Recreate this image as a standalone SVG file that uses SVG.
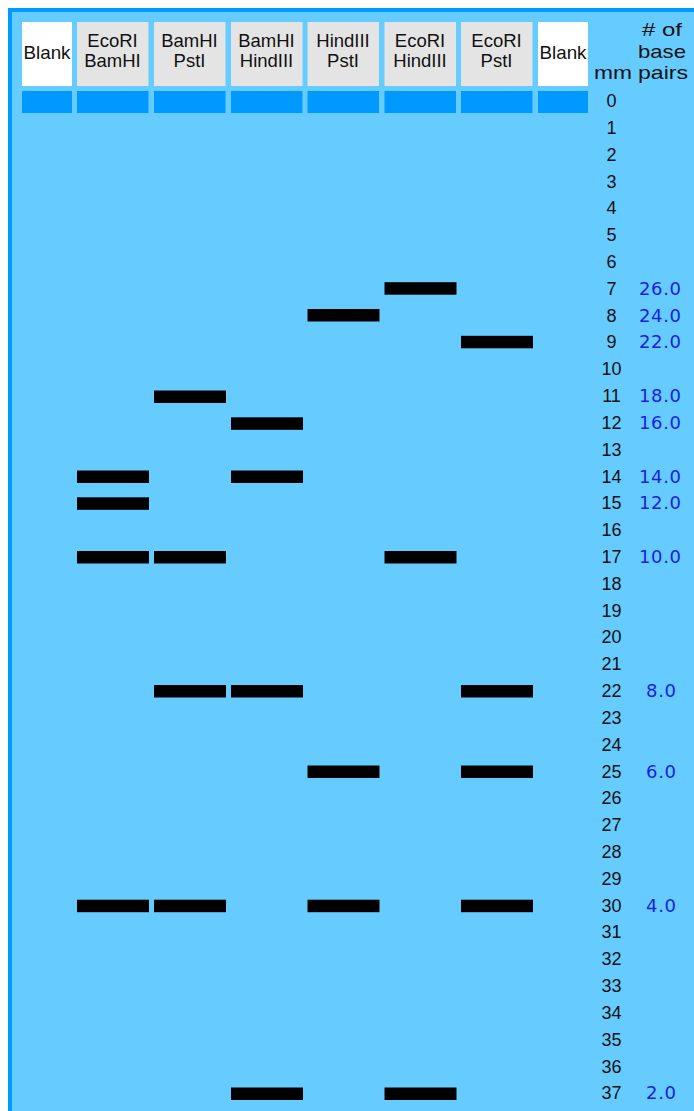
<svg xmlns="http://www.w3.org/2000/svg" width="694" height="1111" viewBox="0 0 694 1111">
<style>
.hd{font-family:"Liberation Sans",Arial,sans-serif;font-size:18.5px;fill:#111;text-anchor:middle}
.mm{font-family:"Liberation Sans",Arial,sans-serif;font-size:18px;fill:#111;text-anchor:middle}
.bp{font-family:"DejaVu Sans",Verdana,sans-serif;font-size:18px;fill:#1a22dd;text-anchor:middle}
.cell{fill:#e4e4e4}
.blank{fill:#ffffff}
.well{fill:#0099ff}
.band{fill:#000000}
</style>
<rect x="8" y="8" width="700" height="1120" fill="#0099ff"/>
<rect x="12" y="12" width="700" height="1120" fill="#66ccff"/>
<g id="lane-blank1">
<rect class="blank" x="22" y="22" width="50" height="64"/>
<text class="hd" x="47" y="59" textLength="47" lengthAdjust="spacingAndGlyphs">Blank</text>
<rect class="well" x="22" y="91" width="50" height="22"/>
</g>
<g id="lane-ecori-bamhi">
<rect class="cell" x="77" y="22" width="71.5" height="64"/>
<text class="hd" x="112.5" y="47">EcoRI</text>
<text class="hd" x="112.5" y="67">BamHI</text>
<rect class="well" x="77" y="91" width="71.5" height="22"/>
</g>
<g id="lane-bamhi-pstl">
<rect class="cell" x="154" y="22" width="71.5" height="64"/>
<text class="hd" x="189.5" y="47">BamHI</text>
<text class="hd" x="189.5" y="67">PstI</text>
<rect class="well" x="154" y="91" width="71.5" height="22"/>
</g>
<g id="lane-bamhi-hindiii">
<rect class="cell" x="231" y="22" width="71.5" height="64"/>
<text class="hd" x="266.5" y="47">BamHI</text>
<text class="hd" x="266.5" y="67">HindIII</text>
<rect class="well" x="231" y="91" width="71.5" height="22"/>
</g>
<g id="lane-hindiii-pstl">
<rect class="cell" x="307.5" y="22" width="71.5" height="64"/>
<text class="hd" x="343" y="47">HindIII</text>
<text class="hd" x="343" y="67">PstI</text>
<rect class="well" x="307.5" y="91" width="71.5" height="22"/>
</g>
<g id="lane-ecori-hindiii">
<rect class="cell" x="384.5" y="22" width="71.5" height="64"/>
<text class="hd" x="420" y="47">EcoRI</text>
<text class="hd" x="420" y="67">HindIII</text>
<rect class="well" x="384.5" y="91" width="71.5" height="22"/>
</g>
<g id="lane-ecori-pstl">
<rect class="cell" x="461" y="22" width="71.5" height="64"/>
<text class="hd" x="496.5" y="47">EcoRI</text>
<text class="hd" x="496.5" y="67">PstI</text>
<rect class="well" x="461" y="91" width="71.5" height="22"/>
</g>
<g id="lane-blank2">
<rect class="blank" x="538" y="22" width="50" height="64"/>
<text class="hd" x="563" y="59" textLength="47" lengthAdjust="spacingAndGlyphs">Blank</text>
<rect class="well" x="538" y="91" width="50" height="22"/>
</g>
<g id="column-headers">
<text class="hd" x="662" y="36" textLength="40" lengthAdjust="spacingAndGlyphs"># of</text>
<text class="hd" x="662" y="58" textLength="48" lengthAdjust="spacingAndGlyphs">base</text>
<text class="hd" x="613" y="79" textLength="38" lengthAdjust="spacingAndGlyphs">mm</text>
<text class="hd" x="663" y="79" textLength="50" lengthAdjust="spacingAndGlyphs">pairs</text>
</g>
<g id="bands">
<rect class="band" x="77" y="470.5" width="72" height="12.5"/>
<rect class="band" x="77" y="497.3" width="72" height="12.5"/>
<rect class="band" x="77" y="551" width="72" height="12.5"/>
<rect class="band" x="77" y="899.7" width="72" height="12.5"/>
<rect class="band" x="154" y="390.5" width="72" height="12.5"/>
<rect class="band" x="154" y="551" width="72" height="12.5"/>
<rect class="band" x="154" y="685" width="72" height="12.5"/>
<rect class="band" x="154" y="899.7" width="72" height="12.5"/>
<rect class="band" x="231" y="417.3" width="72" height="12.5"/>
<rect class="band" x="231" y="470.5" width="72" height="12.5"/>
<rect class="band" x="231" y="685" width="72" height="12.5"/>
<rect class="band" x="231" y="1087.5" width="72" height="12.5"/>
<rect class="band" x="307.5" y="309" width="72" height="12.5"/>
<rect class="band" x="307.5" y="765.5" width="72" height="12.5"/>
<rect class="band" x="307.5" y="899.7" width="72" height="12.5"/>
<rect class="band" x="384.5" y="282.2" width="72" height="12.5"/>
<rect class="band" x="384.5" y="551" width="72" height="12.5"/>
<rect class="band" x="384.5" y="1087.5" width="72" height="12.5"/>
<rect class="band" x="461" y="335.8" width="72" height="12.5"/>
<rect class="band" x="461" y="685" width="72" height="12.5"/>
<rect class="band" x="461" y="765.5" width="72" height="12.5"/>
<rect class="band" x="461" y="899.7" width="72" height="12.5"/>
</g>
<g id="mm-scale">
<text class="mm" x="611.5" y="107">0</text>
<text class="mm" x="611.5" y="133.8">1</text>
<text class="mm" x="611.5" y="160.6">2</text>
<text class="mm" x="611.5" y="187.5">3</text>
<text class="mm" x="611.5" y="214.3">4</text>
<text class="mm" x="611.5" y="241.1">5</text>
<text class="mm" x="611.5" y="267.9">6</text>
<text class="mm" x="611.5" y="294.7">7</text>
<text class="mm" x="611.5" y="321.6">8</text>
<text class="mm" x="611.5" y="348.4">9</text>
<text class="mm" x="611.5" y="375.2">10</text>
<text class="mm" x="611.5" y="402">11</text>
<text class="mm" x="611.5" y="428.8">12</text>
<text class="mm" x="611.5" y="455.7">13</text>
<text class="mm" x="611.5" y="482.5">14</text>
<text class="mm" x="611.5" y="509.3">15</text>
<text class="mm" x="611.5" y="536.1">16</text>
<text class="mm" x="611.5" y="562.9">17</text>
<text class="mm" x="611.5" y="589.8">18</text>
<text class="mm" x="611.5" y="616.6">19</text>
<text class="mm" x="611.5" y="643.4">20</text>
<text class="mm" x="611.5" y="670.2">21</text>
<text class="mm" x="611.5" y="697">22</text>
<text class="mm" x="611.5" y="723.9">23</text>
<text class="mm" x="611.5" y="750.7">24</text>
<text class="mm" x="611.5" y="777.5">25</text>
<text class="mm" x="611.5" y="804.3">26</text>
<text class="mm" x="611.5" y="831.1">27</text>
<text class="mm" x="611.5" y="858">28</text>
<text class="mm" x="611.5" y="884.8">29</text>
<text class="mm" x="611.5" y="911.6">30</text>
<text class="mm" x="611.5" y="938.4">31</text>
<text class="mm" x="611.5" y="965.2">32</text>
<text class="mm" x="611.5" y="992.1">33</text>
<text class="mm" x="611.5" y="1018.9">34</text>
<text class="mm" x="611.5" y="1045.7">35</text>
<text class="mm" x="611.5" y="1072.5">36</text>
<text class="mm" x="611.5" y="1099.3">37</text>
</g>
<g id="bp-scale">
<text class="bp" x="660" y="294.7" textLength="42" lengthAdjust="spacing">26.0</text>
<text class="bp" x="660" y="321.6" textLength="42" lengthAdjust="spacing">24.0</text>
<text class="bp" x="660" y="348.4" textLength="42" lengthAdjust="spacing">22.0</text>
<text class="bp" x="660" y="402" textLength="42" lengthAdjust="spacing">18.0</text>
<text class="bp" x="660" y="428.8" textLength="42" lengthAdjust="spacing">16.0</text>
<text class="bp" x="660" y="482.5" textLength="42" lengthAdjust="spacing">14.0</text>
<text class="bp" x="660" y="509.3" textLength="42" lengthAdjust="spacing">12.0</text>
<text class="bp" x="660" y="562.9" textLength="42" lengthAdjust="spacing">10.0</text>
<text class="bp" x="661" y="697" textLength="30" lengthAdjust="spacing">8.0</text>
<text class="bp" x="661" y="777.5" textLength="30" lengthAdjust="spacing">6.0</text>
<text class="bp" x="661" y="911.6" textLength="30" lengthAdjust="spacing">4.0</text>
<text class="bp" x="661" y="1099.3" textLength="30" lengthAdjust="spacing">2.0</text>
</g>
</svg>
